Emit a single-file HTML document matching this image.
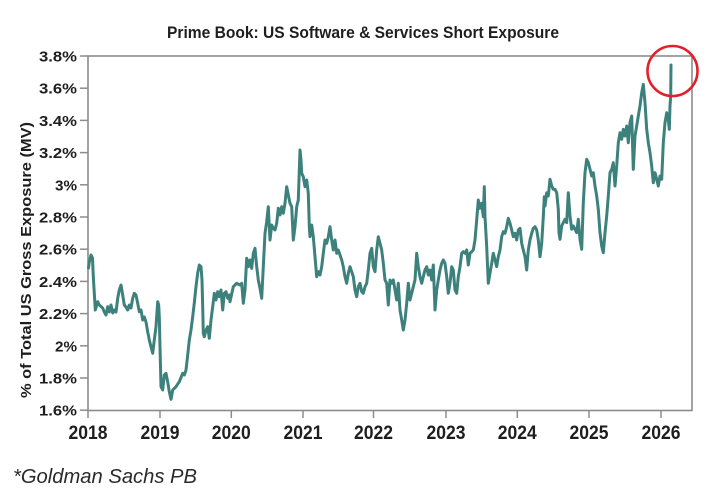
<!DOCTYPE html>
<html>
<head>
<meta charset="utf-8">
<style>
  html,body{margin:0;padding:0;background:#fff;}
  body{width:718px;height:500px;overflow:hidden;}
  svg{display:block;}
  .lbl{font-family:"Liberation Sans",Arial,sans-serif;font-weight:bold;fill:#1e1e1e;}
</style>
</head>
<body>
<svg width="718" height="500" viewBox="0 0 718 500" xmlns="http://www.w3.org/2000/svg">
  <rect x="0" y="0" width="718" height="500" fill="#fff"/>
  <!-- title -->
  <text class="lbl" x="167" y="38" font-size="17" textLength="392" lengthAdjust="spacingAndGlyphs">Prime Book: US Software &amp; Services Short Exposure</text>

  <!-- frame -->
  <rect x="88" y="56" width="604" height="354.5" fill="none" stroke="#8c8c8c" stroke-width="1.6"/>

  <!-- y ticks -->
  <g stroke="#8c8c8c" stroke-width="1.5">
    <line x1="80" y1="56" x2="88" y2="56"/>
    <line x1="80" y1="88.2" x2="88" y2="88.2"/>
    <line x1="80" y1="120.4" x2="88" y2="120.4"/>
    <line x1="80" y1="152.6" x2="88" y2="152.6"/>
    <line x1="80" y1="184.8" x2="88" y2="184.8"/>
    <line x1="80" y1="217" x2="88" y2="217"/>
    <line x1="80" y1="249.2" x2="88" y2="249.2"/>
    <line x1="80" y1="281.4" x2="88" y2="281.4"/>
    <line x1="80" y1="313.6" x2="88" y2="313.6"/>
    <line x1="80" y1="345.8" x2="88" y2="345.8"/>
    <line x1="80" y1="378" x2="88" y2="378"/>
    <line x1="80" y1="410.2" x2="88" y2="410.2"/>
  </g>
  <g class="lbl" font-size="15" text-anchor="end">
    <text x="77" y="61.5" textLength="38" lengthAdjust="spacingAndGlyphs">3.8%</text>
    <text x="77" y="93.7" textLength="38" lengthAdjust="spacingAndGlyphs">3.6%</text>
    <text x="77" y="125.9" textLength="38" lengthAdjust="spacingAndGlyphs">3.4%</text>
    <text x="77" y="158.1" textLength="38" lengthAdjust="spacingAndGlyphs">3.2%</text>
    <text x="77" y="190.3" textLength="22" lengthAdjust="spacingAndGlyphs">3%</text>
    <text x="77" y="222.5" textLength="38" lengthAdjust="spacingAndGlyphs">2.8%</text>
    <text x="77" y="254.7" textLength="38" lengthAdjust="spacingAndGlyphs">2.6%</text>
    <text x="77" y="286.9" textLength="38" lengthAdjust="spacingAndGlyphs">2.4%</text>
    <text x="77" y="319.1" textLength="38" lengthAdjust="spacingAndGlyphs">2.2%</text>
    <text x="77" y="351.3" textLength="22" lengthAdjust="spacingAndGlyphs">2%</text>
    <text x="77" y="383.5" textLength="38" lengthAdjust="spacingAndGlyphs">1.8%</text>
    <text x="77" y="415.7" textLength="38" lengthAdjust="spacingAndGlyphs">1.6%</text>
  </g>

  <!-- x ticks -->
  <g stroke="#8c8c8c" stroke-width="1.5">
    <line x1="88" y1="410" x2="88" y2="418"/>
    <line x1="160" y1="410" x2="160" y2="418"/>
    <line x1="231.3" y1="410" x2="231.3" y2="418"/>
    <line x1="303" y1="410" x2="303" y2="418"/>
    <line x1="373.5" y1="410" x2="373.5" y2="418"/>
    <line x1="446" y1="410" x2="446" y2="418"/>
    <line x1="517.3" y1="410" x2="517.3" y2="418"/>
    <line x1="589" y1="410" x2="589" y2="418"/>
    <line x1="661" y1="410" x2="661" y2="418"/>
  </g>
  <g class="lbl" font-size="19" text-anchor="middle">
    <text x="88" y="439" textLength="39" lengthAdjust="spacingAndGlyphs">2018</text>
    <text x="160" y="439" textLength="39" lengthAdjust="spacingAndGlyphs">2019</text>
    <text x="231.3" y="439" textLength="39" lengthAdjust="spacingAndGlyphs">2020</text>
    <text x="303" y="439" textLength="39" lengthAdjust="spacingAndGlyphs">2021</text>
    <text x="373.5" y="439" textLength="39" lengthAdjust="spacingAndGlyphs">2022</text>
    <text x="446" y="439" textLength="39" lengthAdjust="spacingAndGlyphs">2023</text>
    <text x="517.3" y="439" textLength="39" lengthAdjust="spacingAndGlyphs">2024</text>
    <text x="589" y="439" textLength="39" lengthAdjust="spacingAndGlyphs">2025</text>
    <text x="661" y="439" textLength="39" lengthAdjust="spacingAndGlyphs">2026</text>
  </g>

  <!-- y axis title -->
  <text class="lbl" font-size="15" text-anchor="middle" transform="translate(31,260) rotate(-90)" textLength="276" lengthAdjust="spacingAndGlyphs">% of Total US Gross Exposure (MV)</text>

  <!-- series -->
  <polyline fill="none" stroke="#3d817d" stroke-width="3" stroke-linejoin="round" stroke-linecap="round" points="
88.5,268 89.3,262 91,255 92.5,258 93.3,276.7 95.3,310 97.7,301.7 99.3,305 102.7,308 104.3,312 106,315 107.7,306.7 109.3,312 111,305 112.7,313 114.3,310 116,312 117.7,298.3 119.3,290 121,285 122.7,295 124.3,305 126,307 127.7,310 129.3,305 131,308 132.7,298.3 134.3,293.3 136,295 137.7,303.3 139.3,311.7 141,310 142.7,320 144.3,317 146,322 147.7,331.7 149.3,340 151,346.7 152.7,353.3 154.3,340 156,326.7 157.7,301.7 158.7,305 159.3,317 160,346.7 161,386.7 162.7,390 164.3,375 166,373.3 167.7,382 169.3,391.7 171,399.3 172.7,390 176,386.7 179.3,381.7 182.7,373.3 184.3,375 186,370 187.7,355 189.3,340 191,330 192.7,316.7 194.3,303 196,286.7 197.7,273 199.3,265 201,266.7 202,280 202.7,306.7 203.3,333.3 204.3,336.7 206,330 207.7,326.7 209.3,338.3 211,320 212.7,306.7 214.3,293.3 216,300 217.7,291.7 219.3,296.7 221,290 222.7,310 224.3,293.3 226,291.7 227.7,298.3 229.3,295 230,301.7
233.3,286.7 236.7,283.3 240,285 241.7,283.3 243.3,303.3 245,290 246.7,258.3 248.3,266.7 250,260 251.7,268.3 253.3,253.3 255,248.3 256.7,266.7 258.3,280 260,288.3 261.7,298.3 263.3,266.7 265,233.3 266.7,221.7 268.3,206.7 270,240 271.7,225 273.3,228.3 275,230 276.7,223.3 278.3,208.3 280,215 281.7,206.7 283.3,213.3 285,203.3 286.7,186.7 288.3,195 290,203.3 291.7,206.7 293.3,240 295,226.7 296.7,206.7 298.3,200 300,150 301,160 301.7,173.3 303.3,176.7 305,186.7 306.7,180 308.3,193.3 309.3,226.7 310,236.7 311.7,225 313.3,236.7 315,256.7 316.7,276.7 318.3,271.7 320,275 321.7,266.7 323.3,253.3 325,240 326.7,243.3 328.3,236.7 330,226.7 331.7,240 333.3,250 335,240 336.7,253.3 338.3,250 340,255 341.7,260 343.3,266.7 345,276.7 346.7,283.3 348.3,273.3 350,266.7 351.7,271.7 353.3,276.7 355,290 356.7,296.7 358.3,286.7 360,283.3 361.7,291.7 363.3,293.3 365,286.7 366.7,283.3 368.3,270 370,253.3 371.7,248.3 373.3,266.7 375,271.7 376.7,250 378.3,236.7 380,243.3 381.7,250 383.3,263.3 385,280 386.7,283.3 388.3,305
390,280 391.7,283.3 393.3,280 395,290 396.7,300 398.3,283.3 400,310 401.7,320 403.3,330 405,320 406.7,303.3 408.3,283.3 410,300 411.7,293.3 413.3,286.7 415,280 416.7,253.3 418.3,266.7 420,276.7 421.7,283.3 423.3,276.7 425,270 426.7,266.7 428.3,275 430,270 431.7,280 433.3,265 435,310 436.7,290 438.3,280 440,270 441.7,263.3 443.3,260 445,263.3 446.7,276.7 448.3,293.3 450,283.3 451.7,266.7 453.3,270 455,290 456.7,293.3 458.3,276.7 460,266.7 461.7,253.3 463.3,251.7 465,253.3 466.7,250 468.3,265 470,253.3 471.7,251.7 473.3,250 475,240 476.7,220 478.3,200 480,208.3 481.7,203.3 483.3,216.7 484.3,186.7 485,216.7 486.7,246.7 488.3,283.3 490,273.3 491.7,263.3 493.3,253.3 495,260 496.7,266.7 498.3,256.7 500,250 501.7,236.7 503.3,231.7 505,233.3 506.7,226.7 508.3,218.3 510,223.3 511.7,230 513.3,236.7 515,233.3 516.7,240 518.3,230 520,228.3 521.7,243.3 523.3,250 525,256.7 526.7,270 528.3,250 530,240 531.7,233.3 533.3,228.3 535,226.7 536.7,230 538.3,240 540,256.7 541.7,243.3 543.3,216.7 544.3,196.7
545,206 546.7,192.7 548.3,196 550,179.3 551.7,186 553.3,189.3 555,189.3 556.7,192.7 558.3,209.3 559,232.7 560,239.3 561.7,226 563.3,222.7 565,219.3 566.7,222.7 568.3,192.7 570,216 571.7,229.3 573.3,226 575,229.3 576.7,232.7 578.3,219.3 580,239.3 581.7,249.3 583.3,202.7 585,172.7 586.7,159.3 588.3,162.7 590,169.3 591.7,176 593.3,172.7 595,186 596.7,196 598.3,209.3 600,232.7 601.7,246 603.3,252.7 605,232.7 606.7,216 608.3,196 610,172.7 611.7,169.3 613.3,162.7 615,186 616.7,166 618.3,142.7 620,132.7 621.7,139.3 623.3,129.3 625,136 626.7,126 628.3,142.7 630,122.7 631.7,116 633.3,169.3 635,136 636.7,126 638.3,116 640,106 641.7,92.7 643.3,84.3 645,102.7 646.7,129.3 648.3,142.7 650,152.7 651.7,166 653.3,182.7 655,172.7 656.7,179.3 658.3,186 660,176 661.7,179.3 663.3,142.7 665,122.7 666.7,112.7 668.3,119.3 669.3,129.3 670,106 670.7,96 671,65"/>

  <!-- red circle -->
  <circle cx="672.5" cy="71" r="25" fill="none" stroke="#e3202a" stroke-width="2.6"/>

  <!-- footnote -->
  <text x="13" y="483" font-family="'Liberation Sans',Arial,sans-serif" font-style="italic" font-size="20" fill="#2a2a2a" textLength="184" lengthAdjust="spacingAndGlyphs">*Goldman Sachs PB</text>
</svg>
</body>
</html>
